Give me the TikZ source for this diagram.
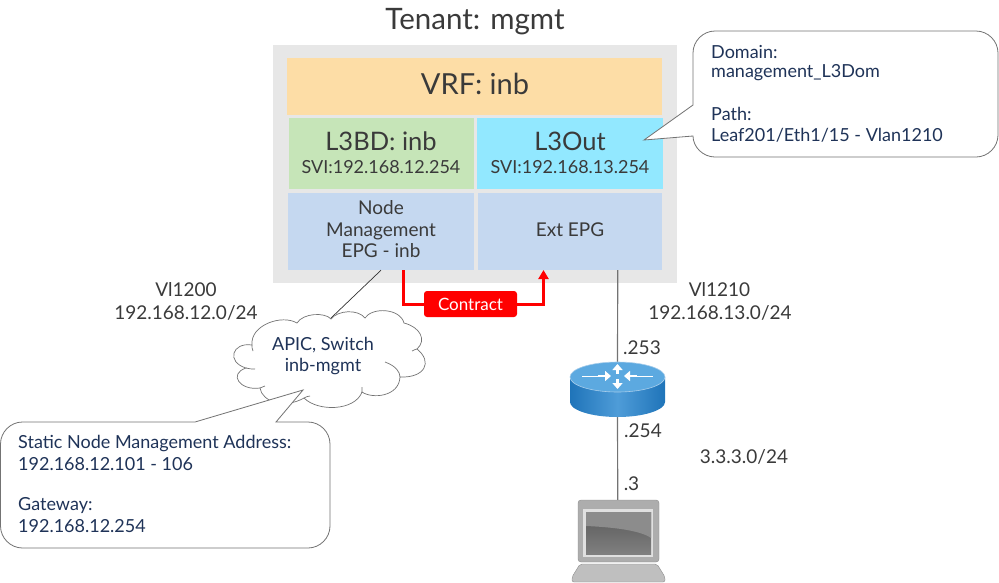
\documentclass[tikz,border=0pt]{standalone}
\usepackage{fontspec}
\setmainfont{Lato}
\usetikzlibrary{arrows.meta,calc}
\definecolor{txtgray}{HTML}{3A3A3A}
\definecolor{txtnavy}{HTML}{1F3358}
\definecolor{redline}{HTML}{FF0000}
\definecolor{panelgray}{HTML}{E7E7E7}
\definecolor{vrforange}{HTML}{FDDDA6}
\definecolor{bdgreen}{HTML}{C6E5B8}
\definecolor{outcyan}{HTML}{92E8FF}
\definecolor{epgblue}{HTML}{C5D8F0}
\definecolor{routeredge}{HTML}{1F74B9}
\definecolor{routermid}{HTML}{4F9CD8}
\definecolor{routertop}{HTML}{5CA9E0}
\newcommand{\fsz}[1]{\fontsize{#1}{#1}\selectfont}
\tikzset{
	block/.style={inner sep=0pt,align=center,text=txtgray,font=\fsz{19}},
	label/.style={inner sep=0pt,align=center,text=txtgray,font=\fsz{19}},
	note/.style={inner sep=0pt,align=left,anchor=west,text=txtnavy,font=\fsz{18}},
	balloon/.style={draw=black!55,fill=white,line width=.8pt},
	grayline/.style={draw=black!55,line width=1.2pt},
	redlink/.style={draw=redline,line width=3pt}
}
\begin{document}
\begin{tikzpicture}[x=1pt,y=-1pt]
	\useasboundingbox (0,0) rectangle (999,582);
	% khung tenant
	\fill[panelgray] (273,45) rectangle (677,283);
	\node[label,font=\fsz{29.5}] (tenant) at (475,22) {Tenant: mgmt};
	\node[block,fill=vrforange,minimum width=375pt,minimum height=57pt] (vrf) at (474.5,86.5) {};
	\node[label,font=\fsz{29}] (vrftext) at (475,84) {VRF: inb};
	\node[block,fill=bdgreen,minimum width=185.5pt,minimum height=70.5pt] (bd) at (381.7,153.7) {};
	\node[block,fill=outcyan,minimum width=186pt,minimum height=70.5pt] (l3out) at (570,153.7) {};
	\node[block,fill=epgblue,minimum width=186pt,minimum height=77pt] (epgnode) at (381,231.5) {};
	\node[label] (nodetext) at (381,229.5) {Node\\[2.5pt]Management\\[2.5pt]EPG - inb};
	\node[block,fill=epgblue,minimum width=184.5pt,minimum height=77pt] (epgext) at (570.2,231.5) {};
	\node[label] (exttext) at (570,230) {Ext EPG};
	\foreach \x/\name/\first/\second in {381/bd/L3BD: inb/192.168.12.254,570/out/L3Out/192.168.13.254}{
		\node[label,font=\fsz{25.5}] (\name big) at (\x,141) {\first};
		\node[label,font=\fsz{18}] (\name svi) at (\x,167) {SVI:\second};
	}
	% may (cloud)
	\path (330,319) coordinate (cloudtop)
	(403.5,270) coordinate (redA)
	(543.5,270) coordinate (redB)
	(617.7,270) coordinate (extout);
	\draw[black!80,line width=.7pt] (epgnode.south) -- (cloudtop);
	\draw[balloon,line width=.7pt]
	(252,345) .. controls (250,325) and (282,314) .. (297,323)
	.. controls (303,313) and (325,312) .. (331,319)
	.. controls (338,310) and (358,309) .. (365,318)
	.. controls (372,307) and (400,308) .. (404,323)
	.. controls (420,327) and (427,340) .. (417,349)
	.. controls (433,362) and (425,378) .. (400,377)
	.. controls (399,397) and (372,399) .. (362,392)
	.. controls (355,411) and (318,412) .. (304,398)
	.. controls (285,409) and (262,402) .. (260,388)
	.. controls (240,391) and (228,374) .. (246,368)
	.. controls (226,362) and (232,342) .. (252,345) -- cycle;
	\draw[black!55,line width=.7pt]
	(252,345) .. controls (252,347) and (252,349) .. (253,351)
	(412,351) .. controls (414,350) and (416,349) .. (417,349)
	(400,377) .. controls (400,372) and (396,366) .. (385,362)
	(362,392) .. controls (362,391) and (362,389) .. (362,387)
	(304,398) .. controls (306,397) and (308,396) .. (310,396)
	(260,388) .. controls (262,387) and (263,387) .. (265,386)
	(246,368) .. controls (249,369) and (252,369) .. (255,369);
	\node[note,anchor=center,align=center] (cloud) at (323,356) {APIC, Switch\\[2.5pt]inb-mgmt};
	% hop ghi chu
	\draw[balloon] (195,422) -- (303,390) -- (276,422) -- (308,422) .. controls (320,422) and (330,432) .. (330,444) -- (330,526)
	.. controls (330,538) and (320,548) .. (308,548) -- (22.5,548) .. controls (10.5,548) and (.5,538) .. (.5,526) -- (.5,444) .. controls (.5,432) and (10.5,422) .. (22.5,422) -- cycle;
	\draw[balloon] (693,136) -- (644,140) -- (693,105) -- (693,53) .. controls (693,41) and (703,31) .. (715,31) -- (976,31)
	.. controls (988,31) and (998,41) .. (998,53) -- (998,135) .. controls (998,147) and (988,157) .. (976,157) -- (715,157) .. controls (703,157) and (693,147) .. (693,136) -- cycle;
	\foreach \y/\txt [count=\i] in {443.5/Static Node Management Address:,464.5/192.168.12.101 - 106,505.5/Gateway:,526.5/192.168.12.254}
	\node[note] (low\i) at (18,\y) {\txt};
	\foreach \y/\txt [count=\i] in {52/Domain:,73/management\_L3Dom,114/Path:,135/{Leaf201/Eth1/15 - Vlan1210}}
	\node[note] (up\i) at (711,\y) {\txt};
	% nhan
	\node[label] (vlana) at (186,290) {Vl1200};
	\node[label] (neta) at (186,313) {192.168.12.0/24};
	\node[label] (vlanb) at (719.5,290) {Vl1210};
	\node[label] (netb) at (720,313) {192.168.13.0/24};
	\node[label] (p253) at (642,348) {.253};
	\node[label] (p254) at (643,431) {.254};
	\node[label] (p3) at (631.5,484) {.3};
	\node[label] (netc) at (744,457) {3.3.3.0/24};
	% contract
	\node[fill=redline,text=white,rounded corners=3pt,inner sep=0pt,minimum width=93pt,minimum height=26pt,font=\fsz{17}] (contract) at (470.5,304) {Contract};
	\draw[redlink] (redA) |- (contract.west);
	\draw[redlink,-{Triangle[length=9pt,width=10pt]}] (contract.east) -| (redB);
	% router va laptop
	\path (617.7,500) coordinate (laptop) (617.5,390) coordinate (router);
	\draw[grayline] (extout) -- (router) -- (laptop);
	\path[shade,left color=routeredge,right color=routeredge,middle color=routermid]
	(570,377) -- (570,402) .. controls (570,410) and (591,417) .. (617.5,417) .. controls (644,417) and (665,410) .. (665,402) -- (665,377) -- cycle;
	\fill[fill=routertop,draw=routermid!50!white,line width=.6pt] (617.5,377) ellipse[x radius=47.5,y radius=15];
	\draw[white,line width=1pt] (582,376) -- (606,376) (629,376) -- (653,376);
	\draw[white,line width=2.5pt,-{Triangle[length=6pt,width=10pt]}] (617.5,374) -- (617.5,364);
	\draw[white,line width=2.5pt,-{Triangle[length=6pt,width=10pt]}] (617.5,379) -- (617.5,389);
	\draw[white,line width=2.5pt,-{Triangle[length=6pt,width=10pt]}] (598,376) -- (611,376);
	\draw[white,line width=2.5pt,-{Triangle[length=6pt,width=10pt]}] (637,376) -- (624,376);
	\fill[black!32,draw=black!45,rounded corners=3pt] (578,500) rectangle (659,562);
	\fill[black!12] (583,509) rectangle (653,557);
	\fill[top color=black!65,bottom color=black!50] (586,512) rectangle (651,554);
	\fill[black!45] (586,526) .. controls (610,527) and (640,530) .. (651,538) -- (651,512) -- (586,512) -- cycle;
	\fill[black!25,draw=black!45,rounded corners=2pt] (580,564) -- (657,564) -- (665,577) -- (665,582) -- (572,582) -- (572,577) -- cycle;
\end{tikzpicture}
\end{document}
